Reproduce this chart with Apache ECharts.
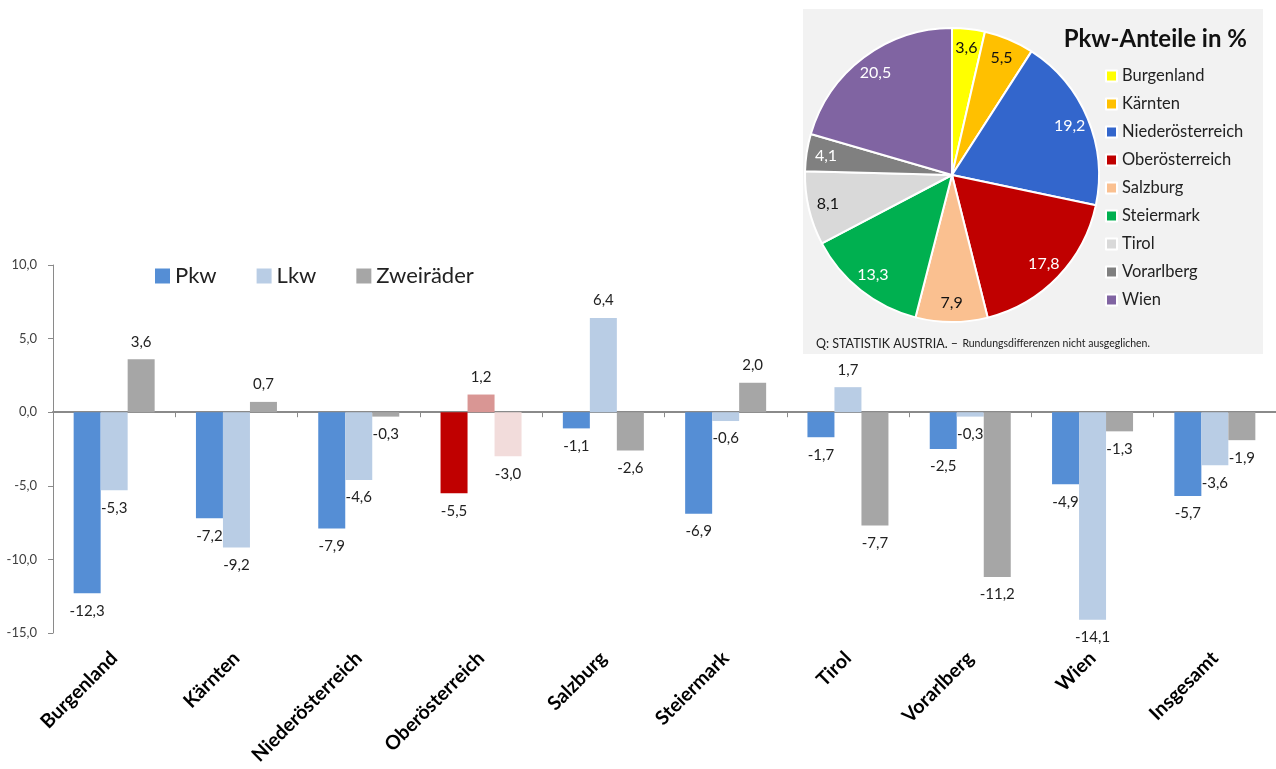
<!DOCTYPE html>
<html>
<head>
<meta charset="utf-8">
<script src="https://cdn.jsdelivr.net/npm/echarts@6/dist/echarts.min.js"></script>
<style>
html,body{margin:0;padding:0;background:#fff;}
#c{width:1276px;height:769px;}
</style>
</head>
<body>
<div id="c"></div>
<script>
// ---- data ----
var categories = ['Burgenland','Kärnten','Niederösterreich','Oberösterreich','Salzburg','Steiermark','Tirol','Vorarlberg','Wien','Insgesamt'];
var seriesNames = ['Pkw','Lkw','Zweiräder'];
var pkw  = [-12.3, -7.2, -7.9, -5.5, -1.1, -6.9, -1.7, -2.5, -4.9, -5.7];
var lkw  = [-5.3, -9.2, -4.6, 1.2, 6.4, -0.6, 1.7, -0.3, -14.1, -3.6];
var zwei = [3.6, 0.7, -0.3, -3.0, -2.6, 2.0, -7.7, -11.2, -1.3, -1.9];
var yTicks = {min: -15, max: 10, interval: 5};

var pieCategories = ['Burgenland','Kärnten','Niederösterreich','Oberösterreich','Salzburg','Steiermark','Tirol','Vorarlberg','Wien'];
var pieValues = [3.6, 5.5, 19.2, 17.8, 7.9, 13.3, 8.1, 4.1, 20.5];
var pieTitle = 'Pkw-Anteile in %';
var sourceA = 'Q: STATISTIK AUSTRIA. –';
var sourceB = 'Rundungsdifferenzen nicht ausgeglichen.';

// ---- styles ----
var FONT = 'Lato';
var barColors = ['#558ED5', '#B9CDE5', '#A6A6A6'];
var highlightCategory = 'Oberösterreich';
var highlightColors = ['#C00000', '#D99694', '#F2DCDB'];
var pieColors = ['#FFFF00','#FFC000','#3366CC','#C00000','#FAC090','#00B050','#D9D9D9','#808080','#8064A2'];
var pieLabelColors = ['#111','#111','#fff','#fff','#111','#fff','#111','#fff','#fff'];

function fmt(v){ return v.toFixed(1).replace('.', ','); }

var allSeriesValues = [pkw, lkw, zwei];

var barSeries = allSeriesValues.map(function(vals, si){
  return {
    name: seriesNames[si],
    type: 'bar',
    xAxisIndex: 0,
    yAxisIndex: 0,
    barWidth: 27,
    barGap: '0%',
    itemStyle: {color: barColors[si]},
    label: {
      show: true,
      position: 'outside',
      distance: 10,
      fontFamily: FONT,
      fontSize: 15,
      color: '#222',
      formatter: function(p){ return fmt(p.value); }
    },
    data: vals.map(function(v, ci){
      if (categories[ci] === highlightCategory) {
        return {value: v, itemStyle: {color: highlightColors[si]}};
      }
      return v;
    })
  };
});

var chart = echarts.init(document.getElementById('c'), null, {renderer: 'canvas'});
chart.setOption({
  animation: false,
  textStyle: {fontFamily: FONT},
  graphic: [{
    type: 'rect', z: 0,
    shape: {x: 803, y: 9, width: 460, height: 345},
    style: {fill: '#F2F2F2'}
  }],
  title: [{
    text: pieTitle,
    right: 24, top: 22,
    textStyle: {fontFamily: FONT, fontSize: 24, fontWeight: 'bold', color: '#111'}
  }, {
    text: '{a|' + sourceA + '} {b|' + sourceB + '}',
    left: 811, top: 330,
    textStyle: {
      rich: {
        a: {fontFamily: FONT, fontSize: 12.5, fontWeight: 'normal', color: '#222'},
        b: {fontFamily: FONT, fontSize: 10.5, fontWeight: 'normal', color: '#222'}
      }
    }
  }],
  legend: [{
    data: seriesNames,
    left: 150, top: 260,
    itemWidth: 15, itemHeight: 15, itemGap: 40,
    icon: 'rect',
    textStyle: {fontFamily: FONT, fontSize: 22, color: '#222'}
  }, {
    data: pieCategories,
    orient: 'vertical',
    left: 1100, top: 62,
    itemWidth: 11, itemHeight: 11, itemGap: 10,
    icon: 'rect',
    textStyle: {fontFamily: FONT, fontSize: 16.5, lineHeight: 18, color: '#222'}
  }],
  grid: {left: 53, top: 265, width: 1224, height: 368, containLabel: false},
  xAxis: [{
    type: 'category',
    data: categories,
    axisLine: {onZero: true, lineStyle: {color: '#8A8A8A', width: 2}},
    axisTick: {show: true, length: 5, lineStyle: {color: '#8A8A8A', width: 1}},
    axisLabel: {show: false},
    splitLine: {show: false}
  }, {
    type: 'category',
    data: categories,
    position: 'bottom',
    axisLine: {show: false, onZero: false},
    axisTick: {show: false},
    axisLabel: {
      show: true, rotate: 45, margin: 22, interval: 0,
      fontFamily: FONT, fontSize: 19.5, fontWeight: 'bold', color: '#000'
    }
  }],
  yAxis: {
    type: 'value',
    min: yTicks.min, max: yTicks.max, interval: yTicks.interval,
    axisLine: {show: true, lineStyle: {color: '#8A8A8A', width: 1}},
    axisTick: {show: true, length: 5, lineStyle: {color: '#8A8A8A'}},
    splitLine: {show: false},
    axisLabel: {
      margin: 16, fontFamily: FONT, fontSize: 13, color: '#404040',
      formatter: function(v){ return fmt(v); }
    }
  },
  series: barSeries.concat([{
    type: 'pie',
    name: 'Pkw-Anteile',
    center: [952, 175],
    radius: 147,
    startAngle: 90,
    clockwise: true,
    z: 3,
    label: {show: false},
    labelLine: {show: false},
    itemStyle: {borderColor: '#fff', borderWidth: 2},
    emphasis: {disabled: true},
    data: pieCategories.map(function(n, i){
      return {name: n, value: pieValues[i], itemStyle: {color: pieColors[i]}};
    })
  }, {
    type: 'pie',
    center: [952, 175],
    radius: [102, 147],
    startAngle: 90,
    clockwise: true,
    silent: true,
    z: 4,
    labelLine: {show: false},
    itemStyle: {color: 'rgba(0,0,0,0)', borderWidth: 0},
    label: {
      show: true, position: 'inside',
      fontFamily: FONT, fontSize: 16,
      formatter: function(p){ return fmt(p.value); }
    },
    data: pieValues.map(function(v, i){
      return {value: v, label: {color: pieLabelColors[i]}};
    })
  }])
});
</script>
</body>
</html>
